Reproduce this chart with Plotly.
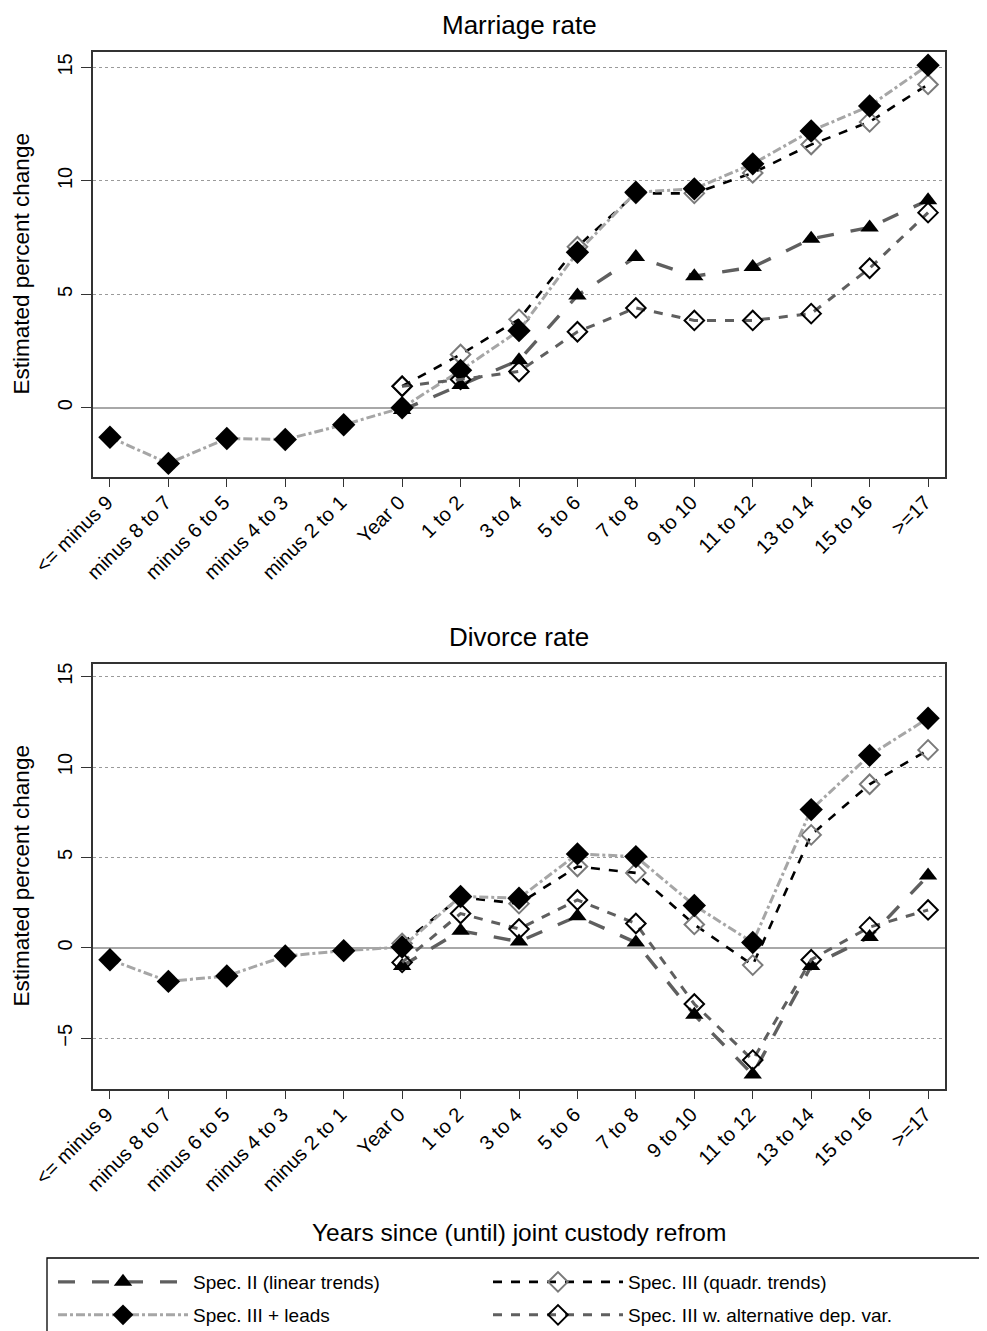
import plotly.graph_objects as go
from plotly.subplots import make_subplots

categories = ["<= minus 9", "minus 8 to 7", "minus 6 to 5", "minus 4 to 3", "minus 2 to 1",
              "Year 0", "1 to 2", "3 to 4", "5 to 6", "7 to 8", "9 to 10", "11 to 12",
              "13 to 14", "15 to 16", ">=17"]
post_categories = categories[5:]

# Marriage rate
mar_spec2 = [-0.1, 1.0, 2.1, 4.95, 6.65, 5.8, 6.2, 7.45, 7.95, 9.15]
mar_quadr = [0.95, 2.35, 3.9, 7.1, 9.45, 9.45, 10.35, 11.6, 12.6, 14.25]
mar_leads = [-1.3, -2.45, -1.35, -1.4, -0.75, 0.0, 1.65, 3.4, 6.85, 9.5, 9.65, 10.75, 12.2, 13.3, 15.1]
mar_alt = [0.95, 1.25, 1.6, 3.35, 4.4, 3.85, 3.85, 4.15, 6.15, 8.6]

# Divorce rate
div_spec2 = [-1.0, 0.95, 0.35, 1.75, 0.3, -3.7, -7.0, -1.0, 0.6, 4.0]
div_quadr = [0.25, 2.8, 2.45, 4.5, 4.15, 1.3, -0.95, 6.25, 9.05, 10.95]
div_leads = [-0.65, -1.85, -1.55, -0.45, -0.15, 0.05, 2.85, 2.75, 5.2, 5.05, 2.35, 0.3, 7.65, 10.65, 12.7]
div_alt = [-0.8, 1.9, 1.05, 2.65, 1.35, -3.1, -6.2, -0.65, 1.15, 2.1]

legend_names = ["Spec. II (linear trends)", "Spec. III (quadr. trends)",
                "Spec. III + leads", "Spec. III w. alternative dep. var."]
panel_titles = ["Marriage rate", "Divorce rate"]
y_title = "Estimated percent change"
x_title = "Years since (until) joint custody refrom"

FONT = "Arial, Liberation Sans, sans-serif"

# figure geometry (page body has an 8px default margin)
W, H = 979, 1323
ML, MR, MT, MB = 85, 42, 44, 242
PW, PH = W - ML - MR, H - MT - MB

def px_x(fx):
    return (fx - ML) / PW

def px_y(fy):
    return (H - MB - fy) / PH

fig = make_subplots(rows=2, cols=1, vertical_spacing=0.18)

styles = {
    "spec2": dict(line=dict(color="#5f5f5f", width=3.4, dash="longdash"),
                  marker=dict(symbol="triangle-up", size=16, color="black")),
    "quadr": dict(line=dict(color="black", width=2.6, dash="dash"),
                  marker=dict(symbol="diamond-open", size=15, color="#7a7a7a",
                              line=dict(width=2, color="#7a7a7a"))),
    "leads": dict(line=dict(color="#a6a6a6", width=3, dash="dashdot"),
                  marker=dict(symbol="diamond", size=18, color="black")),
    "alt": dict(line=dict(color="#5f5f5f", width=3, dash="dash"),
                marker=dict(symbol="diamond-open", size=15, color="black",
                            line=dict(width=2, color="black"))),
}

def add_panel(row, s2, qd, ld, al, show):
    fig.add_trace(go.Scatter(x=post_categories, y=s2, mode="lines+markers", legend="legend",
                             name=legend_names[0], showlegend=show, **styles["spec2"]), row=row, col=1)
    fig.add_trace(go.Scatter(x=post_categories, y=qd, mode="lines+markers", legend="legend",
                             name=legend_names[1], showlegend=show, **styles["quadr"]), row=row, col=1)
    fig.add_trace(go.Scatter(x=categories, y=ld, mode="lines+markers", legend="legend2",
                             name=legend_names[2], showlegend=show, **styles["leads"]), row=row, col=1)
    fig.add_trace(go.Scatter(x=post_categories, y=al, mode="lines+markers", legend="legend2",
                             name=legend_names[3], showlegend=show, **styles["alt"]), row=row, col=1)

add_panel(1, mar_spec2, mar_quadr, mar_leads, mar_alt, True)
add_panel(2, div_spec2, div_quadr, div_leads, div_alt, False)

top_domain = [px_y(469), px_y(44)]
bot_domain = [px_y(1081), px_y(656)]

axis_common = dict(showline=True, linecolor="#333333", linewidth=1.5, mirror=True,
                   ticks="outside", tickcolor="#333333", automargin=False,
                   tickfont=dict(family=FONT, size=20, color="black"))

for r, dom, rng, tv in [(1, top_domain, [-3.05, 15.68], [0, 5, 10, 15]),
                        (2, bot_domain, [-7.8, 15.7], [-5, 0, 5, 10, 15])]:
    fig.update_yaxes(row=r, col=1, domain=dom, range=rng, tickvals=tv, tickangle=-90,
                     ticklen=10, ticklabelstandoff=1,
                     showgrid=True, gridcolor="#9a9a9a", griddash="dot", gridwidth=1.4,
                     zeroline=True, zerolinecolor="#a8a8a8", zerolinewidth=2,
                     **axis_common)
    fig.update_xaxes(row=r, col=1, type="category", categoryorder="array",
                     categoryarray=categories, range=[-0.29, 14.29], tickangle=-45,
                     ticklen=8, ticklabelstandoff=-4, ticklabelshift=-3,
                     showgrid=False, **axis_common)

fig.layout.annotations = []
for title, ref, yc in zip(panel_titles, ["y domain", "y2 domain"], [256.5, 868.5]):
    fig.add_annotation(text=title, xref="paper", yref=ref, x=0.5, y=1.0,
                       xanchor="center", yanchor="bottom", yshift=10, showarrow=False,
                       font=dict(family=FONT, size=26, color="black"))
    fig.add_annotation(text=y_title, xref="paper", yref="paper", x=px_x(13), y=px_y(yc),
                       xanchor="center", yanchor="middle", textangle=-90, showarrow=False,
                       font=dict(family=FONT, size=22.5, color="black"))

fig.add_annotation(text=x_title, xref="paper", yref="paper",
                   x=0.5, y=px_y(1224), xanchor="center", yanchor="middle", showarrow=False,
                   font=dict(family=FONT, size=24.5, color="black"))

fig.add_shape(type="rect", xref="paper", yref="paper",
              x0=px_x(39), x1=px_x(1000), y0=px_y(1340), y1=px_y(1250),
              line=dict(color="black", width=1.3), fillcolor="rgba(0,0,0,0)")

leg_common = dict(orientation="h", xanchor="left", yanchor="middle",
                  bgcolor="rgba(0,0,0,0)", borderwidth=0,
                  entrywidth=290, entrywidthmode="pixels", itemwidth=130,
                  font=dict(family=FONT, size=19, color="black"), traceorder="normal")

fig.update_layout(
    width=W, height=H,
    margin=dict(l=ML, r=MR, t=MT, b=MB, autoexpand=False),
    paper_bgcolor="white", plot_bgcolor="white",
    font=dict(family=FONT, color="black"),
    legend=dict(x=px_x(45), y=px_y(1274), **leg_common),
    legend2=dict(x=px_x(45), y=px_y(1307), **leg_common),
)

fig.write_html("out.html")
